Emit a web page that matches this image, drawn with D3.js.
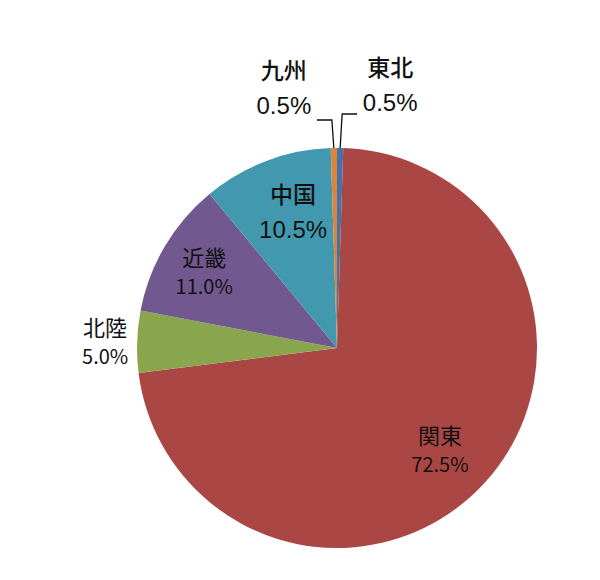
<!DOCTYPE html>
<html>
<head>
<meta charset="utf-8">
<script src="https://cdn.jsdelivr.net/npm/d3@7/dist/d3.min.js"></script>
<style>
  body { margin: 0; background: #fff; }
  svg text { fill: #111; }
</style>
</head>
<body>
<svg id="chart" width="600" height="580"></svg>
<script>
// regional share, clockwise from 12 o'clock
var regions = ["東北", "関東", "北陸", "近畿", "中国", "九州"]
var shares = [0.5, 72.5, 5.0, 11.0, 10.5, 0.5]
var colors = ["#4572A7", "#AA4643", "#89A54E", "#71588F", "#4198AF", "#DB843D"]

var width = 600,
    height = 580,
    radius = 200,
    cx = 337,
    cy = 348;

var svg = d3.select("#chart")
var g = svg.append("g").attr("transform", "translate(" + cx + "," + cy + ")")

var pie = d3.pie().sort(null).value(function (d) { return d; })
var arcs = pie(shares)

var arc = d3.arc().innerRadius(0).outerRadius(radius)

g.selectAll(".slice")
    .data(arcs)
    .enter().append("path")
    .attr("class", "slice")
    .attr("d", arc)
    .style("fill", function (d, i) { return colors[i]; })

// label radius as fraction of the pie radius (0 = tiny slice, uses leader line)
var labelRadius = [0, 0.73, 1.16, 0.76, 0.72, 0]
// small hand nudges [dx, dy] for each label block
var labelNudge = [[0, 0], [-5, 5], [0, 2], [-2, 2], [7, -3], [0, 0]]
// which labels use the heavier "Excel" style text
var heavy = [true, false, false, false, true, true]

function fmt(v) { return v.toFixed(1) + "%" }

var cjk = "'Noto Sans CJK JP', sans-serif"
var latin = "'Liberation Sans', Arial, sans-serif"

arcs.forEach(function (d, i) {
    var mid = (d.startAngle + d.endAngle) / 2
    var nameSize = heavy[i] ? "23px" : "22px"
    var nameWeight = heavy[i] ? 500 : 400
    if (labelRadius[i] > 0) {
        var r = radius * labelRadius[i]
        var x = Math.sin(mid) * r + labelNudge[i][0],
            y = -Math.cos(mid) * r + labelNudge[i][1]
        g.append("text")
            .attr("x", x).attr("y", y - 7)
            .attr("text-anchor", "middle")
            .style("font-family", cjk)
            .style("font-size", nameSize)
            .style("font-weight", nameWeight)
            .text(regions[i])
        g.append("text")
            .attr("x", x).attr("y", y + (heavy[i] ? 28 : 21))
            .attr("text-anchor", "middle")
            .style("font-family", heavy[i] ? latin : cjk)
            .style("font-size", heavy[i] ? "24px" : "20px")
            .text(fmt(shares[i]))
    } else {
        // leader line from the rim, up, then out sideways
        var side = Math.sin(mid) >= 0 ? 1 : -1
        var p0 = [Math.sin(mid) * radius, -Math.cos(mid) * radius]
        var elbowY = side > 0 ? -234 : -228
        var p1 = [p0[0] + side * 2, elbowY]
        var p2 = [p1[0] + side * 15, elbowY]
        g.append("path")
            .attr("d", d3.line()([p0, p1, p2]))
            .style("fill", "none")
            .style("stroke", "#111")
            .style("stroke-width", 1.3)
        var tx = p2[0] + side * 33
        var valueY = side > 0 ? elbowY - 3 : elbowY - 6
        g.append("text")
            .attr("x", tx).attr("y", valueY)
            .attr("text-anchor", "middle")
            .style("font-family", latin)
            .style("font-size", "24px")
            .text(fmt(shares[i]))
        g.append("text")
            .attr("x", tx).attr("y", valueY - 35)
            .attr("text-anchor", "middle")
            .style("font-family", cjk)
            .style("font-size", nameSize)
            .style("font-weight", nameWeight)
            .text(regions[i])
    }
})
</script>
</body>
</html>
